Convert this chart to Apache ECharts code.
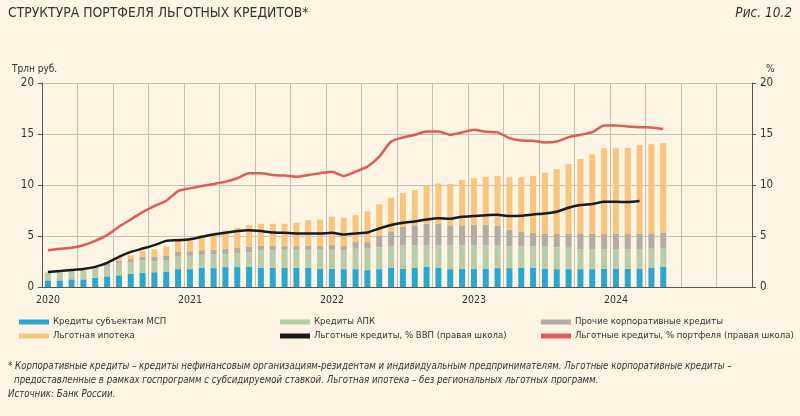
<!DOCTYPE html>
<html>
<head>
<meta charset="utf-8">
<script src="https://cdn.jsdelivr.net/npm/echarts@6/dist/echarts.min.js"></script>
<style>
  html, body { margin: 0; padding: 0; background: #fdf4e4; }
  #chart { width: 800px; height: 416px; }
</style>
</head>
<body>
<div id="chart"></div>
<script>
  var FONT = "'Liberation Sans Narrow', 'DejaVu Sans Condensed', 'Liberation Sans', sans-serif";
  var textColor = '#333';
  var gridColor = '#c9c0b4';
  var axisColor = '#555';

  // месяцы 2020-2024 (ось X)
  var years = ['2020', '2021', '2022', '2023', '2024'];
  var months = [];
  years.forEach(function (y) {
    for (var m = 1; m <= 12; m++) {
      months.push(y + '-' + (m < 10 ? '0' + m : m));
    }
  });

  // трлн руб., янв.2020 - май 2024
  var msp = [0.65, 0.65, 0.75, 0.75, 0.9, 1.05, 1.15, 1.3, 1.4, 1.45, 1.5, 1.75,
    1.75, 1.9, 1.85, 1.95, 1.95, 2.0, 1.9, 1.9, 1.9, 1.9, 1.9, 1.8,
    1.8, 1.75, 1.75, 1.65, 1.75, 1.9, 1.8, 1.9, 2.0, 1.9, 1.75, 1.8,
    1.8, 1.8, 1.85, 1.85, 1.9, 1.9, 1.8, 1.75, 1.75, 1.75, 1.75, 1.8,
    1.8, 1.8, 1.8, 1.9, 2.0];
  var apk = [0.75, 0.8, 0.75, 0.8, 0.85, 1.0, 1.15, 1.15, 1.2, 1.05, 1.1, 1.25,
    1.3, 1.25, 1.35, 1.3, 1.35, 1.4, 1.7, 1.7, 1.75, 1.75, 1.75, 1.85,
    1.85, 1.85, 2.0, 2.15, 2.15, 2.1, 2.3, 2.2, 2.1, 2.2, 2.35, 2.3,
    2.3, 2.3, 2.2, 2.15, 2.1, 2.1, 2.15, 2.15, 2.1, 1.95, 1.95, 1.9,
    1.9, 1.9, 1.9, 1.85, 1.8];
  var other = [0.02, 0.03, 0.05, 0.05, 0.1, 0.2, 0.25, 0.3, 0.35, 0.45, 0.45, 0.45,
    0.45, 0.45, 0.45, 0.5, 0.55, 0.55, 0.45, 0.45, 0.35, 0.35, 0.4, 0.35,
    0.45, 0.4, 0.65, 0.6, 1.1, 1.45, 1.8, 1.95, 2.1, 2.1, 1.95, 1.95,
    2.0, 2.0, 1.95, 1.6, 1.4, 1.3, 1.3, 1.3, 1.35, 1.55, 1.55, 1.55,
    1.55, 1.5, 1.55, 1.5, 1.55];
  var mortgage = [0, 0, 0, 0.02, 0.05, 0.2, 0.3, 0.35, 0.6, 0.75, 0.9, 1.3,
    1.2, 1.5, 1.65, 1.8, 1.95, 2.1, 2.15, 2.15, 2.2, 2.3, 2.5, 2.6,
    2.8, 2.8, 2.65, 3.0, 3.1, 3.3, 3.3, 3.45, 3.7, 3.95, 4.05, 4.45,
    4.55, 4.7, 4.9, 5.15, 5.35, 5.6, 5.95, 6.35, 6.85, 7.3, 7.75, 8.35,
    8.35, 8.45, 8.65, 8.75, 8.75];

  // % (правая шкала)
  var gdpShare = [1.48, 1.57, 1.67, 1.77, 1.97, 2.36, 2.95, 3.44, 3.77, 4.1, 4.52, 4.59,
    4.69, 4.92, 5.15, 5.31, 5.48, 5.57, 5.48, 5.34, 5.31, 5.25, 5.25, 5.25,
    5.31, 5.15, 5.25, 5.34, 5.74, 6.07, 6.3, 6.43, 6.62, 6.75, 6.69, 6.89,
    6.96, 7.04, 7.08, 6.95, 6.98, 7.11, 7.21, 7.38, 7.77, 8.03, 8.13, 8.36,
    8.36, 8.33, 8.43];
  var portfolioShare = [3.6, 3.74, 3.84, 4.1, 4.52, 5.08, 5.9, 6.62, 7.34, 7.93, 8.46, 9.41,
    9.67, 9.9, 10.1, 10.33, 10.66, 11.15, 11.15, 10.98, 10.92, 10.82, 10.98, 11.15,
    11.31, 10.89, 11.31, 11.8, 12.79, 14.26, 14.66, 14.92, 15.25, 15.25, 14.92, 15.15,
    15.41, 15.22, 15.16, 14.59, 14.36, 14.33, 14.16, 14.26, 14.69, 14.92, 15.18, 15.84,
    15.84, 15.74, 15.67, 15.64, 15.48];

  var names = ['Кредиты субъектам МСП', 'Льготная ипотека', 'Кредиты АПК',
    'Льготные кредиты, % ВВП (правая школа)', 'Прочие корпоративные кредиты',
    'Льготные кредиты, % портфеля (правая школа)'];

  var chart = echarts.init(document.getElementById('chart'));

  function barSeries(name, data, color) {
    return {
      name: name,
      type: 'bar',
      stack: 'total',
      barWidth: 6,
      itemStyle: { color: color },
      data: data
    };
  }

  function lineSeries(name, data, color) {
    return {
      name: name,
      type: 'line',
      yAxisIndex: 1,
      symbol: 'none',
      smooth: 0.2,
      z: 5,
      lineStyle: { width: 2.5, color: color },
      itemStyle: { color: color },
      data: data
    };
  }

  function legendCol(left, items) {
    return {
      orient: 'vertical',
      left: left,
      top: 317,
      padding: 0,
      itemWidth: 30,
      itemHeight: 5,
      itemGap: 4,
      icon: 'rect',
      textStyle: { fontFamily: FONT, fontSize: 9.5, color: textColor, padding: [0, 0, 0, -1] },
      data: items
    };
  }

  function note(x, y, text, size) {
    return {
      type: 'text', left: x, top: y,
      style: { text: text, font: 'italic ' + size + 'px ' + FONT, fill: textColor }
    };
  }

  chart.setOption({
    backgroundColor: '#fdf4e4',
    animation: false,
    textStyle: { fontFamily: FONT },
    title: [{
      text: 'СТРУКТУРА ПОРТФЕЛЯ ЛЬГОТНЫХ КРЕДИТОВ*',
      left: 8, top: 6, padding: 0,
      textStyle: { fontFamily: FONT, fontSize: 13.8, fontWeight: 'normal', color: textColor }
    }, {
      text: 'Рис. 10.2',
      right: 8, top: 6, padding: 0,
      textStyle: { fontFamily: FONT, fontSize: 13.5, fontWeight: 'normal', fontStyle: 'italic', color: textColor }
    }],
    legend: [
      legendCol(19, [names[0], names[1]]),
      legendCol(280, [names[2], names[3]]),
      legendCol(541, [names[4], names[5]])
    ],
    grid: { left: 42, right: 48, top: 83, bottom: 129 },
    xAxis: {
      type: 'category',
      data: months,
      boundaryGap: true,
      axisLine: { lineStyle: { color: axisColor } },
      axisTick: {
        length: 4,
        lineStyle: { color: axisColor },
        interval: function (i) { return i % 12 === 0; }
      },
      axisLabel: {
        color: textColor,
        fontSize: 10.5,
        margin: 8,
        interval: function (i) { return i % 12 === 0; },
        formatter: function (v) { return v.slice(0, 4); }
      },
      splitLine: {
        show: true,
        interval: function (i) { return i % 3 === 0; },
        lineStyle: { color: gridColor, width: 1 }
      }
    },
    yAxis: [{
      type: 'value',
      min: 0, max: 20, interval: 5,
      axisLine: { show: true, lineStyle: { color: axisColor } },
      axisTick: { show: true, length: 4, lineStyle: { color: axisColor } },
      axisLabel: { color: textColor, fontSize: 11.5, margin: 8 },
      splitLine: { lineStyle: { color: gridColor } }
    }, {
      type: 'value',
      min: 0, max: 20, interval: 5,
      axisLine: { show: true, lineStyle: { color: axisColor } },
      axisTick: { show: true, length: 4, lineStyle: { color: axisColor } },
      axisLabel: { color: textColor, fontSize: 11.5, margin: 8 },
      splitLine: { show: false }
    }],
    series: [
      barSeries(names[0], msp, '#2aa7cf'),
      barSeries(names[2], apk, '#b7cda9'),
      barSeries(names[4], other, '#b3aca2'),
      barSeries(names[1], mortgage, '#f6c57e'),
      lineSeries(names[3], gdpShare, '#1a1a1a'),
      lineSeries(names[5], portfolioShare, '#df5a58')
    ],
    graphic: [
      { type: 'text', left: 12, top: 64,
        style: { text: 'Трлн руб.', font: '10px ' + FONT, fill: textColor } },
      { type: 'text', left: 766, top: 64,
        style: { text: '%', font: '10px ' + FONT, fill: textColor } },
      note(8, 361, '* Корпоративные кредиты – кредиты нефинансовым организациям-резидентам и индивидуальным предпринимателям. Льготные корпоративные кредиты –', 9.6),
      note(14, 375, 'предоставленные в рамках госпрограмм с субсидируемой ставкой. Льготная ипотека – без региональных льготных программ.', 9.6),
      note(8, 389, 'Источник: Банк России.', 9.6)
    ]
  });
</script>
</body>
</html>
